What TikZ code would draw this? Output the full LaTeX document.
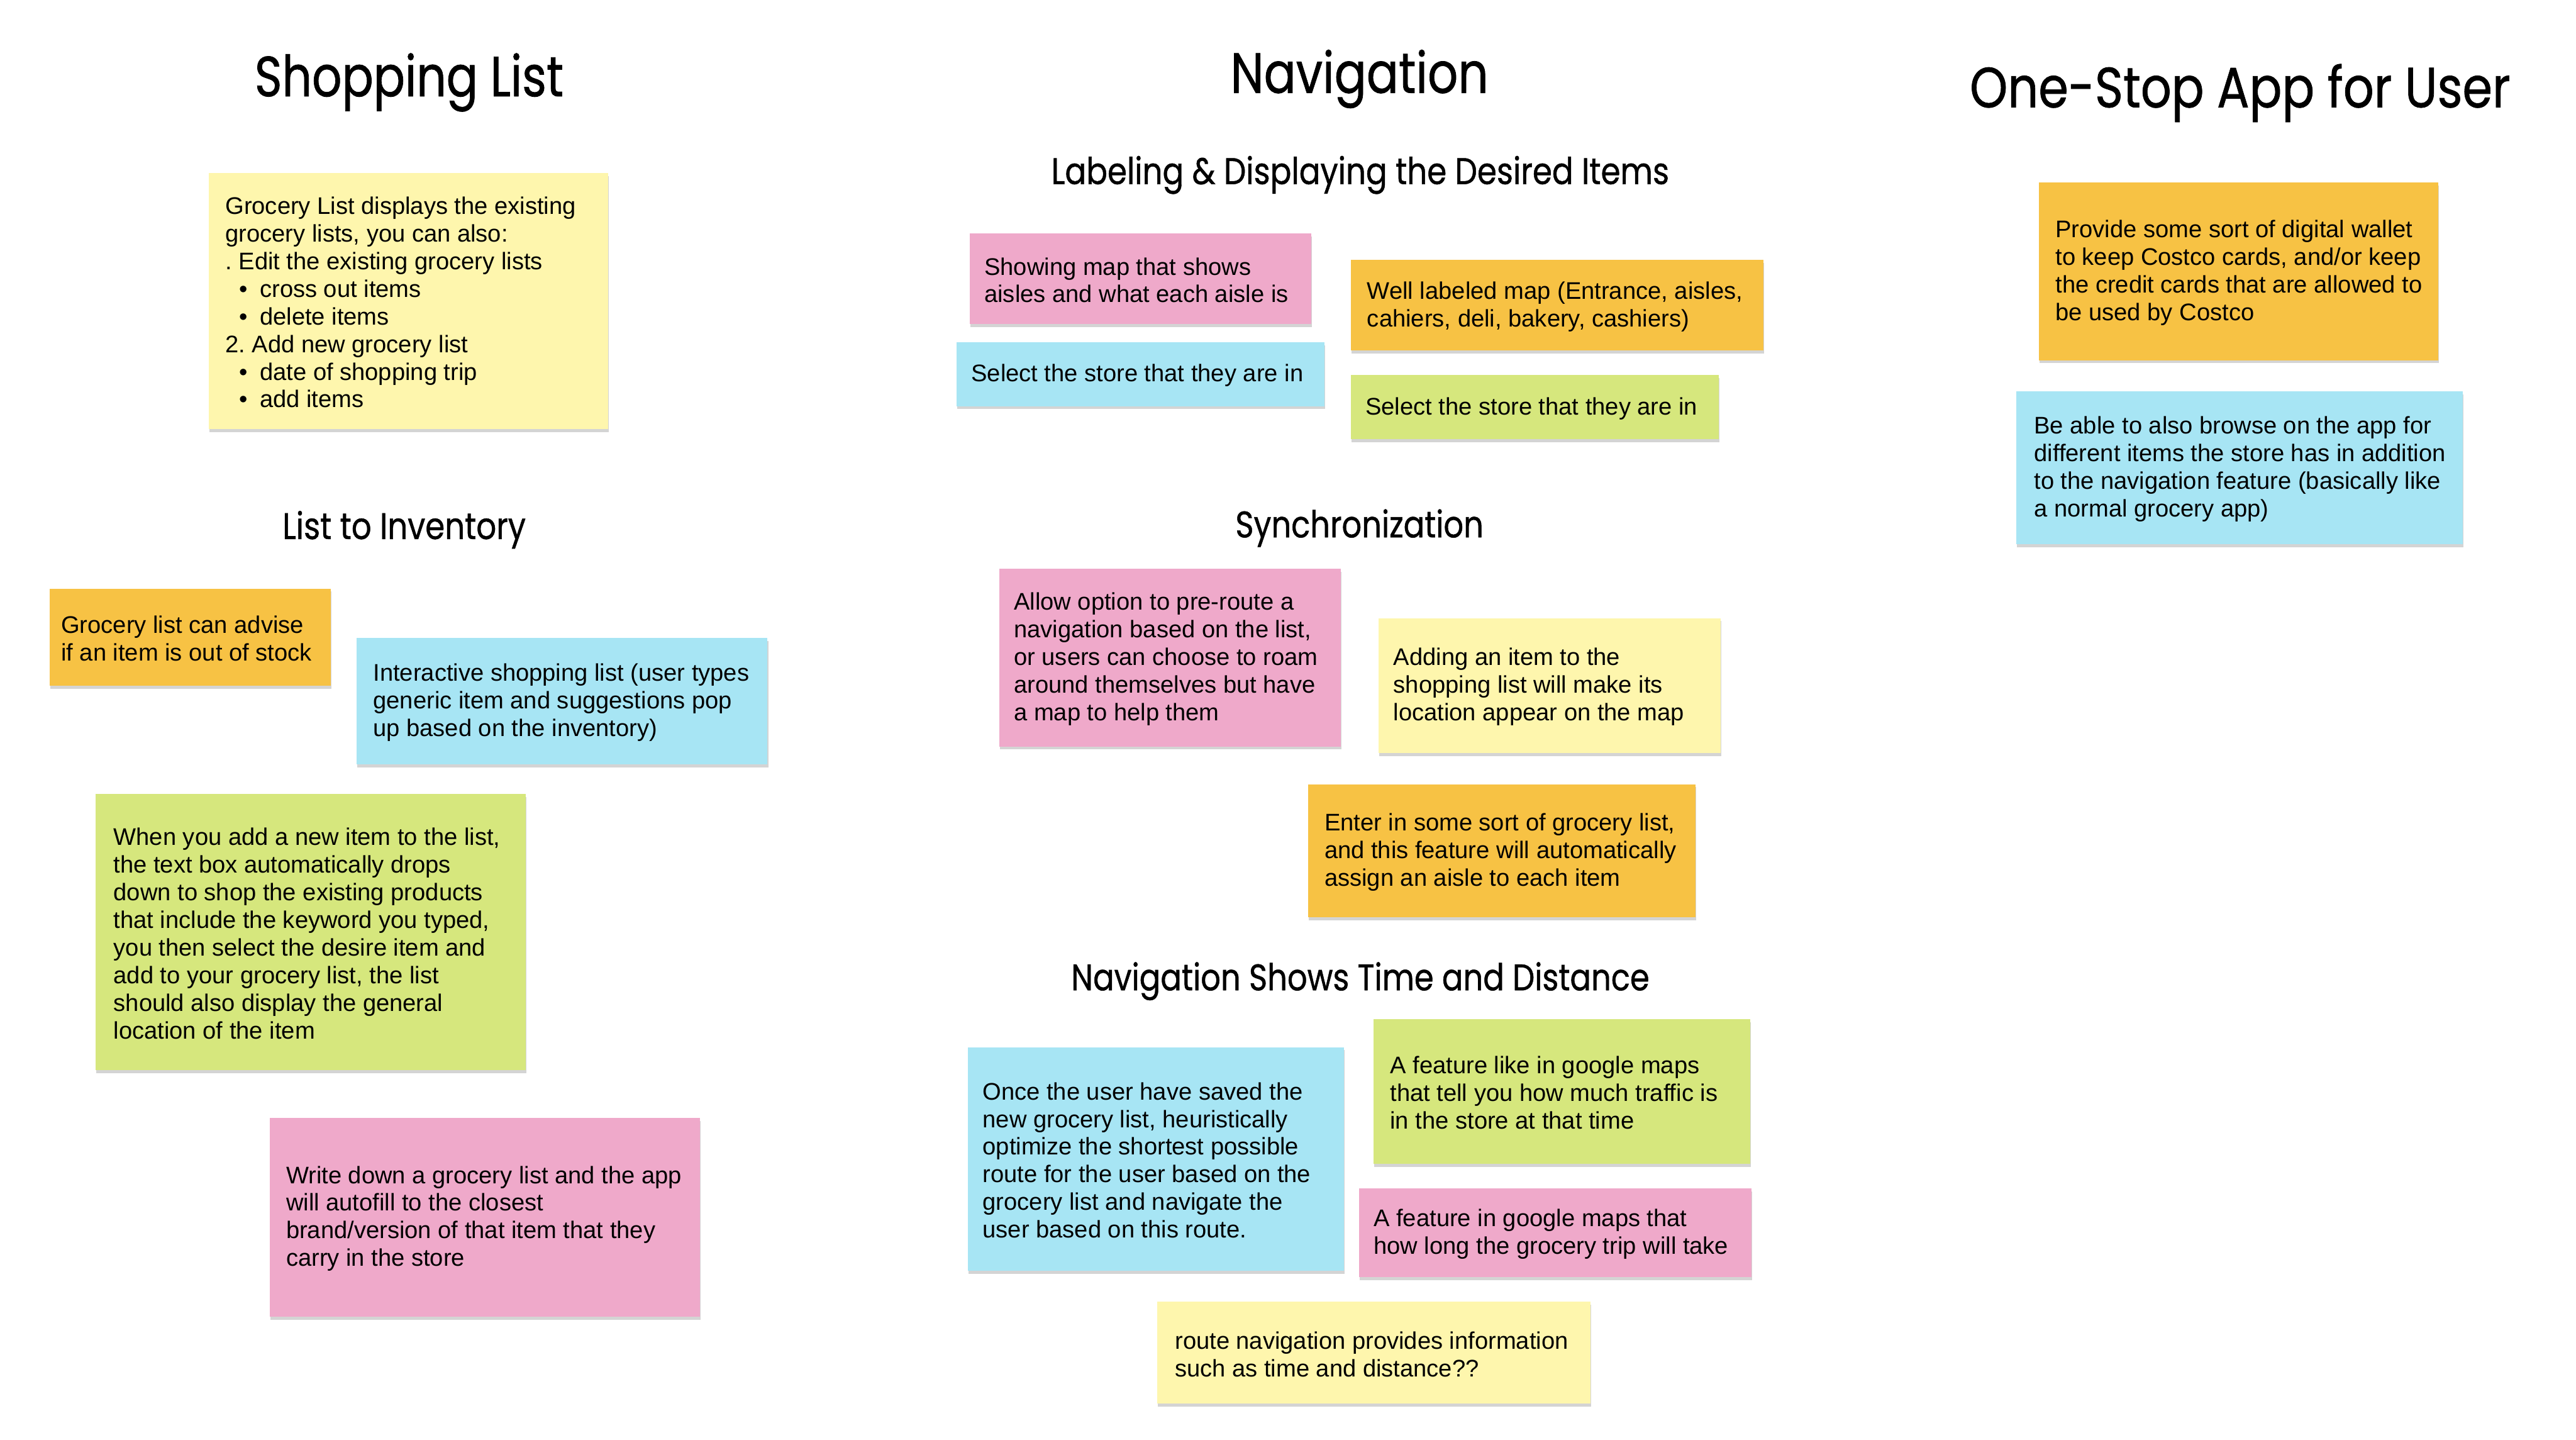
\documentclass[tikz,border=0pt]{standalone}
\usepackage{fontspec}
\usepackage{graphicx}
\setmainfont{Liberation Sans}
\newfontfamily\titlefont[FakeBold=0.9]{Poppins}
\frenchspacing
\definecolor{noteyellow}{HTML}{FEF6AD}
\definecolor{noteorange}{HTML}{F7C244}
\definecolor{noteblue}{HTML}{A7E5F4}
\definecolor{notegreen}{HTML}{D6E77D}
\definecolor{notepink}{HTML}{EFA9CA}
\tikzset{
  notebox/.style={draw=none, inner sep=0pt, anchor=north west},
  notetext/.style={anchor=west, align=left, inner sep=0pt, font=\frenchspacing\fontsize{14.6}{16.8}\selectfont},
  bigtitle/.style={anchor=base, inner sep=0pt, font=\titlefont\fontsize{34.5}{40}\selectfont},
  subtitle/.style={anchor=base, inner sep=0pt, font=\titlefont\fontsize{22.5}{26}\selectfont},
  noteshade/.style={fill=black!17},
}
% name, x1, y1, x2, y2, colour, left padding, text
\newcommand\stickynote[8]{%
  \fill[noteshade] (#2+0.6,#3+2) rectangle (#4+0.6,#5+2);
  \pgfmathsetmacro\notew{#4-#2}\pgfmathsetmacro\noteh{#5-#3}%
  \node[notebox, fill=#6, minimum width=\notew pt, minimum height=\noteh pt] (#1) at (#2,#3) {};
  \node[notetext] (#1-t) at ([xshift=#7pt, yshift=-0.8pt]#1.west) {#8};
}
\newcommand\bul{\makebox[21pt][l]{\hspace*{8.5pt}•}}
\begin{document}
\begin{tikzpicture}[x=1pt,y=-1pt]
\useasboundingbox[fill=white] (0,0) rectangle (1568,876);

% ---------- titles ----------
\node[bigtitle] (t-shop) at (249,58.6) {\resizebox{188pt}{\height}{Shopping List}};
\node[bigtitle] (t-nav) at (827.5,56.5) {\resizebox{157pt}{\height}{Navigation}};
\node[bigtitle] (t-one) at (1363.5,65.3) {\resizebox{329pt}{\height}{One-Stop App for User}};
\node[subtitle] (t-inv) at (246,328) {\resizebox{148pt}{\height}{List to Inventory}};
\node[subtitle] (t-lab) at (828,112) {\resizebox{376pt}{\height}{Labeling \& Displaying the Desired Items}};
\node[subtitle] (t-syn) at (827.5,327) {\resizebox{151pt}{\height}{Synchronization}};
\node[subtitle] (t-time) at (828,602.6) {\resizebox{352pt}{\height}{Navigation Shows Time and Distance}};

% ---------- Shopping List ----------
\stickynote{sl1}{127}{105}{370}{261}{noteyellow}{10}{Grocery List displays the existing\\grocery lists, you can also:\\. Edit the existing grocery lists\\\bul cross out items\\\bul delete items\\2. Add new grocery list\\\bul date of shopping trip\\\bul add items}

% ---------- List to Inventory ----------
\stickynote{li1}{30}{358}{201}{417}{noteorange}{7}{Grocery list can advise\\if an item is out of stock}
\stickynote{li2}{217}{388}{467}{465}{noteblue}{10}{Interactive shopping list (user types\\generic item and suggestions pop\\up based on the inventory)}
\stickynote{li3}{58}{483}{320}{651}{notegreen}{11}{When you add a new item to the list,\\the text box automatically drops\\down to shop the existing products\\that include the keyword you typed,\\you then select the desire item and\\add to your grocery list, the list\\should also display the general\\location of the item}
\stickynote{li4}{164}{680}{426}{801}{notepink}{10}{Write down a grocery list and the app\\will autofill to the closest\\brand/version of that item that they\\carry in the store}

% ---------- Labeling ----------
\stickynote{lb1}{590}{142}{798}{197}{notepink}{9}{Showing map that shows\\aisles and what each aisle is}
\stickynote{lb2}{822}{158}{1073}{213}{noteorange}{10}{Well labeled map (Entrance, aisles,\\cahiers, deli, bakery, cashiers)}
\stickynote{lb3}{582}{208}{806}{247}{noteblue}{9}{Select the store that they are in}
\stickynote{lb4}{822}{228}{1046}{267}{notegreen}{9}{Select the store that they are in}

% ---------- Synchronization ----------
\stickynote{sy1}{608}{346}{816}{454}{notepink}{9}{Allow option to pre-route a\\navigation based on the list,\\or users can choose to roam\\around themselves but have\\a map to help them}
\stickynote{sy2}{839}{376}{1047}{458}{noteyellow}{9}{Adding an item to the\\shopping list will make its\\location appear on the map}
\stickynote{sy3}{796}{477}{1032}{558}{noteorange}{10}{Enter in some sort of grocery list,\\and this feature will automatically\\assign an aisle to each item}

% ---------- Time and Distance ----------
\stickynote{td1}{589}{637}{818}{773}{noteblue}{9}{Once the user have saved the\\new grocery list, heuristically\\optimize the shortest possible\\route for the user based on the\\grocery list and navigate the\\user based on this route.}
\stickynote{td2}{836}{620}{1065}{708}{notegreen}{10}{A feature like in google maps\\that tell you how much traffic is\\in the store at that time}
\stickynote{td3}{827}{723}{1066}{777}{notepink}{9}{A feature in google maps that\\how long the grocery trip will take}
\stickynote{td4}{704}{792}{968}{854}{noteyellow}{11}{route navigation provides information\\such as time and distance??}

% ---------- One-Stop App ----------
\stickynote{os1}{1241}{111}{1484}{219}{noteorange}{10}{Provide some sort of digital wallet\\to keep Costco cards, and/or keep\\the credit cards that are allowed to\\be used by Costco}
\stickynote{os2}{1227}{238}{1499}{331}{noteblue}{11}{Be able to also browse on the app for\\different items the store has in addition\\to the navigation feature (basically like\\a normal grocery app)}
\end{tikzpicture}
\end{document}
